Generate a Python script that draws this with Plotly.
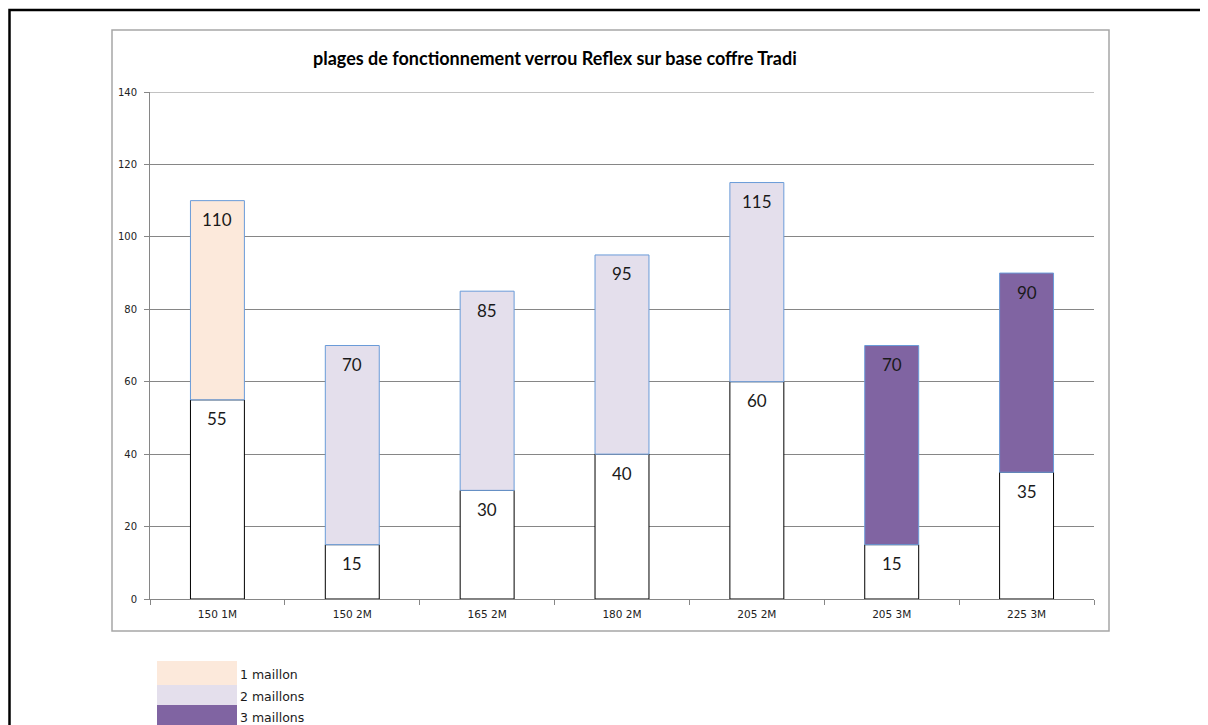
import plotly.graph_objects as go

categories = ["150 1M", "150 2M", "165 2M", "180 2M", "205 2M", "205 3M", "225 3M"]
low_values = [55, 15, 30, 40, 60, 15, 35]
high_values = [110, 70, 85, 95, 115, 70, 90]
link_count = [1, 2, 2, 2, 2, 3, 3]

legend_labels = ["1 maillon", "2 maillons", "3 maillons"]
link_colors = {1: "#fce9db", 2: "#e4dfec", 3: "#8064a2"}

# page body has an 8px margin, so the figure starts at (8, 8) in the window
OFF = 8
W, H = 1200, 717
L, R, T, B = 150 - OFF, 114, 92 - OFF, 126
PW, PH = W - L - R, H - T - B


def px_x(x):
    # window pixel -> paper coordinate
    return (x - OFF - L) / PW


def px_y(y):
    return (H - B - (y - OFF)) / PH


fig = go.Figure()

# lower white part (bottom of the operating range)
fig.add_trace(go.Bar(
    x=categories, y=low_values,
    marker=dict(color="white", line=dict(color="black", width=1)),
    hoverinfo="x+y", showlegend=False,
))

# coloured part = operating range
fig.add_trace(go.Bar(
    x=categories,
    y=[h - l for h, l in zip(high_values, low_values)],
    base=low_values,
    marker=dict(color=[link_colors[n] for n in link_count],
                line=dict(color="#6a9bd8", width=1)),
    customdata=high_values,
    hovertemplate="%{x}: %{base} - %{customdata}<extra></extra>",
    showlegend=False,
))

annotations = []
for cat, lo, hi in zip(categories, low_values, high_values):
    for v in (lo, hi):
        annotations.append(dict(
            x=cat, y=v, xref="x", yref="y", text=str(v), showarrow=False,
            yanchor="middle", yshift=-19,
            font=dict(family="Lato, sans-serif", size=17, color="#1a1a1a"),
        ))

# title
annotations.append(dict(
    x=px_x(555), y=px_y(58), xref="paper", yref="paper",
    text="<b>plages de fonctionnement verrou Reflex sur base coffre Tradi</b>",
    showarrow=False, xanchor="center", yanchor="middle",
    font=dict(family="Lato, sans-serif", size=18, color="black"),
))

shapes = [
    # outer black frame
    dict(type="rect", xref="paper", yref="paper",
         x0=px_x(9.5), x1=px_x(1240), y0=px_y(10), y1=px_y(770),
         line=dict(color="black", width=2.5), layer="below"),
    # chart area frame
    dict(type="rect", xref="paper", yref="paper",
         x0=px_x(112), x1=px_x(1109), y0=px_y(30), y1=px_y(631),
         line=dict(color="#a6a6a6", width=1.5), layer="below"),
    # top gridline at 140
    dict(type="line", xref="paper", yref="y", x0=0, x1=1, y0=140, y1=140,
         line=dict(color="#868686", width=1), layer="below"),
]

# legend swatches below the chart
legend_rows = [(661, 685), (685, 705), (705, 728)]
for label, n, (y0, y1) in zip(legend_labels, [1, 2, 3], legend_rows):
    shapes.append(dict(type="rect", xref="paper", yref="paper",
                       x0=px_x(157), x1=px_x(237), y0=px_y(y1), y1=px_y(y0),
                       fillcolor=link_colors[n], line=dict(width=0)))
    annotations.append(dict(
        x=px_x(238), y=px_y((y0 + y1) / 2 + 1), xref="paper", yref="paper",
        text=label, showarrow=False, xanchor="left", yanchor="middle",
        font=dict(family="DejaVu Sans, sans-serif", size=12.5, color="#1a1a1a"),
    ))

fig.update_layout(
    width=W, height=H,
    margin=dict(l=L, r=R, t=T, b=B),
    paper_bgcolor="white", plot_bgcolor="white",
    barmode="overlay", bargap=0.6,
    showlegend=False,
    shapes=shapes, annotations=annotations,
    font=dict(family="DejaVu Sans, sans-serif", size=10, color="#222"),
)
fig.update_xaxes(
    type="category", tickson="boundaries", ticks="outside", ticklen=5,
    tickcolor="#868686", showline=True, linecolor="#868686", linewidth=1,
    showgrid=False, tickfont=dict(size=10.5), ticklabelstandoff=5,
)
fig.update_yaxes(
    range=[0, 140], dtick=20, ticks="outside", ticklen=5, tickcolor="#868686",
    showline=True, linecolor="#868686", linewidth=1,
    showgrid=True, gridcolor="#868686", gridwidth=1, zeroline=False,
    tickfont=dict(size=10), ticklabelstandoff=5,
)

fig.write_html("out.html")
